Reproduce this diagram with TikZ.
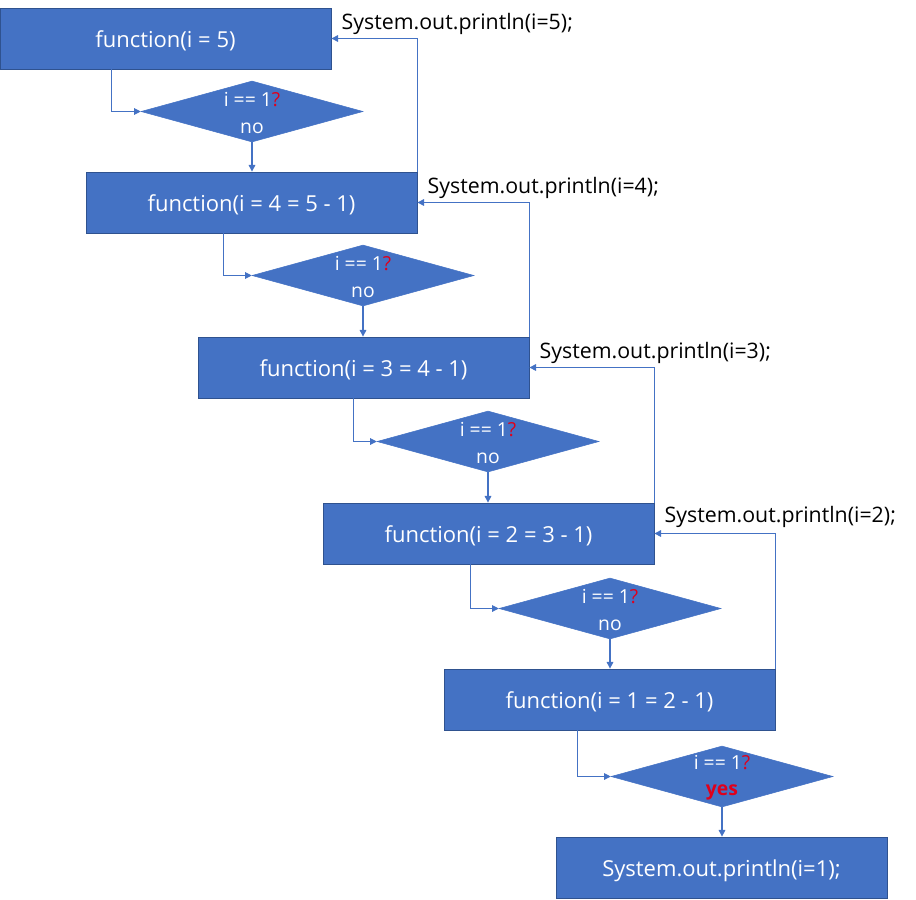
\documentclass[tikz,border=0pt]{standalone}
\usepackage{fontspec}
\setmainfont{Open Sans}
\usetikzlibrary{shapes.geometric,arrows.meta,calc}
\definecolor{boxblue}{HTML}{4472C4}
\definecolor{edgeblue}{HTML}{2F528F}
\definecolor{qred}{HTML}{E0001B}
\begin{document}
\begin{tikzpicture}[x=0.75pt,y=-0.75pt,
  fbox/.style={rectangle,draw=edgeblue,line width=0.6pt,fill=boxblue,text=white,
    minimum width=248.25pt,minimum height=45.75pt,inner sep=0pt,
    text height=16pt,text depth=2pt,
    font=\fontsize{16.5}{19}\selectfont},
  dec/.style={diamond,fill=boxblue,draw=boxblue,line width=0.4pt,
    minimum width=166.5pt,minimum height=45.75pt,aspect=3.64,inner sep=0pt},
  dtext/.style={text=white,align=center,inner sep=0pt,
    font=\fontsize{14.5}{20}\selectfont},
  conn/.style={draw=boxblue,line width=0.8pt,-{Triangle[length=5pt,width=5pt]}},
  lbl/.style={anchor=west,inner sep=0pt,text=black,font=\fontsize{16}{19}\selectfont}]
\useasboundingbox (0,0) rectangle (916,899);
\newcommand{\ques}{i == 1\textcolor{qred}{?}}
% boxes and decisions
\node[fbox] (b1) at (165.5,38.5) {function(i = 5)};
\node[dec]  (d1) at (252,111.5) {};
\node[fbox] (b2) at (251.5,202.5) {function(i = 4 = 5 - 1)};
\node[dec]  (d2) at (363,275.5) {};
\node[fbox] (b3) at (363.5,367.5) {function(i = 3 = 4 - 1)};
\node[dec]  (d3) at (488,441.5) {};
\node[fbox] (b4) at (488.5,533.5) {function(i = 2 = 3 - 1)};
\node[dec]  (d4) at (610,608.5) {};
\node[fbox] (b5) at (609.5,699.5) {function(i = 1 = 2 - 1)};
\node[dec]  (d5) at (722,776.5) {};
\node[fbox] (b6) at (721.5,867.5) {System.out.println(i=1);};
% decision texts
\node[dtext] (t1) at ([yshift=-1pt]d1.center) {\ques\\no};
\node[dtext] (t2) at ([yshift=-1pt]d2.center) {\ques\\no};
\node[dtext] (t3) at ([yshift=-1pt]d3.center) {\ques\\no};
\node[dtext] (t4) at ([yshift=-1pt]d4.center) {\ques\\no};
\node[dtext] (t5) at ([yshift=-1pt]d5.center) {\ques\\\textcolor{qred}{\bfseries yes}};
% labels
\node[lbl] (l1) at ([shift={(10,-15)}]b1.east) {System.out.println(i=5);};
\node[lbl] (l2) at ([shift={(10,-15)}]b2.east) {System.out.println(i=4);};
\node[lbl] (l3) at ([shift={(10,-15)}]b3.east) {System.out.println(i=3);};
\node[lbl] (l4) at ([shift={(10,-17)}]b4.east) {System.out.println(i=2);};
% elbow arrows into decisions
\draw[conn] ([xshift=84pt]b1.south west) |- (d1.west);
\draw[conn] ([xshift=103.5pt]b2.south west) |- (d2.west);
\draw[conn] ([xshift=117pt]b3.south west) |- (d3.west);
\draw[conn] ([xshift=111pt]b4.south west) |- (d4.west);
\draw[conn] ([xshift=100.5pt]b5.south west) |- (d5.west);
% decision down arrows
\draw[conn] (d1.south) -- (d1.south |- b2.north);
\draw[conn] (d2.south) -- (d2.south |- b3.north);
\draw[conn] (d3.south) -- (d3.south |- b4.north);
\draw[conn] (d4.south) -- (d4.south |- b5.north);
\draw[conn] (d5.south) -- (d5.south |- b6.north);
% feedback arrows
\draw[conn] (b2.north east) |- (b1.east);
\draw[conn] (b3.north east) |- (b2.east);
\draw[conn] (b4.north east) |- (b3.east);
\draw[conn] (b5.north east) |- (b4.east);
\end{tikzpicture}
\end{document}
